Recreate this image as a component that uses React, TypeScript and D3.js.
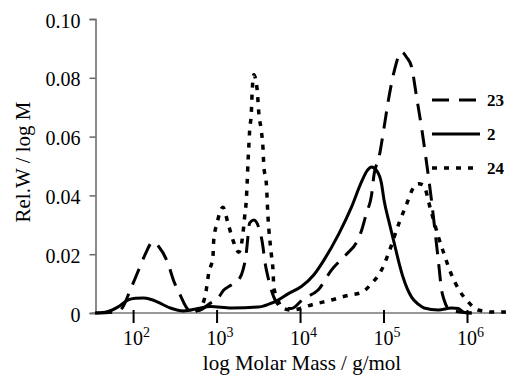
import { useRef, useEffect } from "react";
import * as d3 from "d3";

// y axis ticks
const yTicks = [0, 0.02, 0.04, 0.06, 0.08, 0.1];
const yTickLabels = ["0", "0.02", "0.04", "0.06", "0.08", "0.10"];
// x axis ticks (exponent of 10)
const xTickExps = [2, 3, 4, 5, 6];

// sample 23 (long dash)
const logM23 = [1.54, 1.81, 1.87, 1.96, 2.08, 2.14, 2.23, 2.3, 2.41, 2.48, 2.57, 2.63, 2.69, 2.8, 2.9, 3.01, 3.08, 3.17, 3.25, 3.31, 3.35, 3.37, 3.39, 3.44, 3.5, 3.55, 3.57, 3.61, 3.65, 3.68, 3.77, 3.89, 4.04, 4.21, 4.37, 4.55, 4.67, 4.73, 4.79, 4.85, 4.88, 4.94, 5.0, 5.05, 5.12, 5.21, 5.27, 5.33, 5.39, 5.45, 5.51, 5.57, 5.6, 5.65, 5.69, 5.72, 5.77, 5.87, 6.05];
const rel23 = [0, 0.0005, 0.002, 0.0078, 0.016, 0.02, 0.0242, 0.0226, 0.017, 0.011, 0.0054, 0.002, 0.0005, 0.001, 0.003, 0.005, 0.0078, 0.0095, 0.011, 0.0146, 0.0204, 0.026, 0.0306, 0.0316, 0.029, 0.0225, 0.018, 0.0122, 0.0078, 0.0054, 0.002, 0.0015, 0.005, 0.0078, 0.0146, 0.02, 0.024, 0.028, 0.034, 0.04, 0.047, 0.053, 0.063, 0.072, 0.082, 0.0888, 0.087, 0.0837, 0.0735, 0.063, 0.051, 0.038, 0.0306, 0.018, 0.0078, 0.0044, 0.0015, 0.0005, 0];

// sample 2 (solid)
const logM2 = [1.54, 1.66, 1.81, 1.93, 2.02, 2.12, 2.2, 2.29, 2.44, 2.6, 2.77, 2.92, 3.17, 3.49, 3.62, 3.73, 3.85, 4.01, 4.16, 4.28, 4.46, 4.61, 4.73, 4.8, 4.85, 4.91, 4.97, 5.0, 5.06, 5.12, 5.18, 5.23, 5.33, 5.41, 5.48, 5.65, 5.81, 5.89, 5.96, 6.05];
const rel2 = [0, 0.0003, 0.002, 0.0044, 0.005, 0.0051, 0.0047, 0.0037, 0.0017, 0.0007, 0.0015, 0.0022, 0.0017, 0.002, 0.003, 0.0044, 0.0065, 0.009, 0.013, 0.018, 0.027, 0.036, 0.0446, 0.0485, 0.0497, 0.0485, 0.044, 0.0384, 0.031, 0.024, 0.017, 0.012, 0.0054, 0.003, 0.0017, 0.001, 0.0017, 0.0015, 0.0002, 0];

// sample 24 (dotted)
const logM24 = [2.74, 2.84, 2.87, 2.9, 2.95, 2.96, 3.0, 3.07, 3.13, 3.19, 3.26, 3.31, 3.33, 3.35, 3.36, 3.37, 3.38, 3.39, 3.41, 3.42, 3.44, 3.48, 3.5, 3.53, 3.55, 3.56, 3.59, 3.61, 3.65, 3.67, 3.68, 3.73, 3.77, 3.89, 4.16, 4.37, 4.57, 4.73, 4.85, 4.97, 5.05, 5.18, 5.27, 5.35, 5.41, 5.47, 5.56, 5.65, 5.72, 5.8, 5.9, 6.01, 6.13, 6.32, 6.46];
const rel24 = [0.0005, 0.004, 0.0078, 0.0136, 0.019, 0.0248, 0.0306, 0.036, 0.0306, 0.0248, 0.0207, 0.027, 0.0327, 0.0384, 0.044, 0.051, 0.0565, 0.062, 0.068, 0.075, 0.081, 0.076, 0.068, 0.062, 0.056, 0.05, 0.044, 0.0327, 0.02, 0.0146, 0.0088, 0.0044, 0.002, 0.001, 0.003, 0.0044, 0.006, 0.007, 0.01, 0.0146, 0.02, 0.0306, 0.037, 0.0425, 0.044, 0.0435, 0.035, 0.026, 0.02, 0.0136, 0.0078, 0.0037, 0.001, 0.0003, 0.0003];

const seriesNames = ["23", "2", "24"];

const FONT = "'Liberation Serif', 'Times New Roman', serif";

const App = () => {
  const svgRef = useRef<SVGSVGElement>(null);
  const width = 506;
  const height = 376;

  useEffect(() => {
    if (!svgRef.current) return;
    const svg = d3.select(svgRef.current);
    svg.selectAll("*").remove();

    const xScale = d3.scaleLinear().domain([2, 6]).range([133.6, 467.5]);
    const yScale = d3.scaleLinear().domain([0, 0.1]).range([313, 19]);
    const left = 95.5;

    // y axis
    const yAxis = d3
      .axisLeft(yScale)
      .tickValues(yTicks)
      .tickSize(6)
      .tickPadding(9)
      .tickFormat((d, i) => yTickLabels[i]);
    const yAxisGroup = svg
      .append("g")
      .attr("transform", `translate(${left},0)`)
      .call(yAxis)
      .attr("font-family", FONT)
      .attr("font-size", 20);
    yAxisGroup.select(".domain").attr("stroke", "#666").attr("stroke-width", 1.5);
    yAxisGroup.selectAll(".tick line").attr("stroke", "#666").attr("stroke-width", 1.5);
    yAxisGroup
      .selectAll(".tick text")
      .style("font-family", FONT)
      .attr("fill", "#000")
      .attr("dy", "0.4em");

    // x axis baseline
    svg
      .append("line")
      .attr("x1", left - 4)
      .attr("x2", width)
      .attr("y1", yScale(0))
      .attr("y2", yScale(0))
      .attr("stroke", "#777")
      .attr("stroke-width", 1.5);

    const xTicks = svg
      .append("g")
      .selectAll("g")
      .data(xTickExps)
      .join("g")
      .attr("transform", (d) => `translate(${xScale(d)},0)`);
    xTicks
      .append("line")
      .attr("y1", yScale(0) - 3)
      .attr("y2", yScale(0) + 10)
      .attr("stroke", "#000")
      .attr("stroke-width", 2);
    const xLabel = xTicks
      .append("text")
      .attr("x", 3)
      .attr("y", 345)
      .attr("text-anchor", "middle")
      .style("font-family", FONT)
      .attr("font-size", 20);
    xLabel.append("tspan").text("10");
    xLabel
      .append("tspan")
      .attr("dy", -8)
      .attr("font-size", 14)
      .text((d) => d);

    // axis titles
    svg
      .append("text")
      .attr("x", 302)
      .attr("y", 370)
      .attr("text-anchor", "middle")
      .style("font-family", FONT)
      .attr("font-size", 21)
      .text("log Molar Mass / g/mol");
    svg
      .append("text")
      .attr("transform", "translate(30,162) rotate(-90)")
      .attr("text-anchor", "middle")
      .style("font-family", FONT)
      .attr("font-size", 21)
      .text("Rel.W / log M");

    // curves
    const line = d3
      .line<[number, number]>()
      .x((d) => xScale(d[0]))
      .y((d) => yScale(d[1]))
      .curve(d3.curveMonotoneX);

    const series = [
      { name: seriesNames[0], pts: d3.zip(logM23, rel23), dash: "17,10", w: 3 },
      { name: seriesNames[1], pts: d3.zip(logM2, rel2), dash: null, w: 3 },
      { name: seriesNames[2], pts: d3.zip(logM24, rel24), dash: "5,7", w: 3.5 },
    ];

    svg
      .append("g")
      .selectAll("path")
      .data(series)
      .join("path")
      .attr("d", (d) => line(d.pts as [number, number][]))
      .attr("fill", "none")
      .attr("stroke", "#000")
      .attr("stroke-width", (d) => d.w)
      .attr("stroke-dasharray", (d) => d.dash);

    // legend
    const legend = svg
      .append("g")
      .selectAll("g")
      .data(series)
      .join("g")
      .attr("transform", (d, i) => `translate(432,${100 + i * 34})`);
    legend
      .append("line")
      .attr("x1", 0)
      .attr("x2", 48)
      .attr("stroke", "#000")
      .attr("stroke-width", (d) => d.w)
      .attr("stroke-dasharray", (d) => d.dash);
    legend
      .append("text")
      .attr("x", 55)
      .attr("dy", "0.35em")
      .style("font-family", FONT)
      .attr("font-size", 17)
      .attr("font-weight", "bold")
      .text((d) => d.name);
  }, []);

  return (
    <svg
      ref={svgRef}
      width={width}
      height={height}
      style={{ position: "absolute", left: 0, top: 0, background: "#fff" }}
    ></svg>
  );
};

export default App;
